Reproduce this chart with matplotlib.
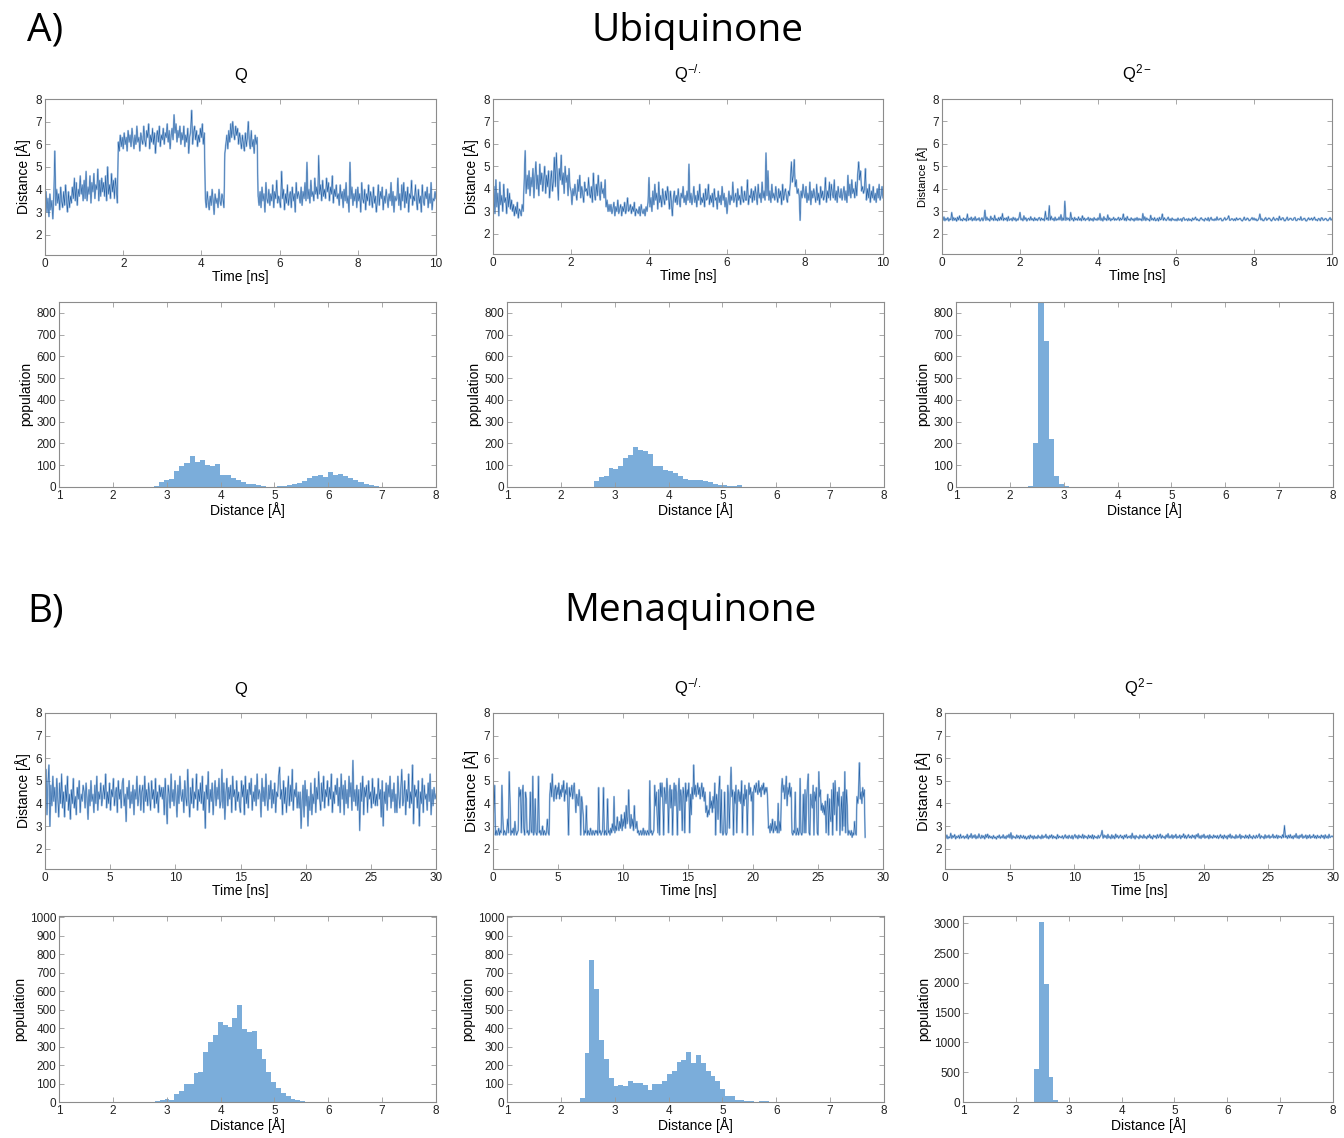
import matplotlib
matplotlib.use("Agg")
import matplotlib.pyplot as plt
import numpy as np

plt.rcParams['font.family'] = ['Liberation Sans', 'DejaVu Sans']
plt.rcParams['mathtext.fontset'] = 'custom'
plt.rcParams['mathtext.rm'] = 'Liberation Sans'
plt.rcParams['mathtext.it'] = 'Liberation Sans:italic'

# ---------------- data ----------------
states = ['Q', 'Q$^{\\mathrm{-/.}}$', 'Q$^{\\mathrm{2-}}$']

# Ubiquinone distance traces, one sample every 0.025 ns (0-10 ns)
ubi_dt = 0.025
ubi_q = [
    3.2, 3.9, 3.0, 3.6, 2.8, 3.8, 3.1, 3.5, 2.7, 3.7, 5.7, 3.3, 4.0, 3.4, 3.8, 3.1, 4.1, 3.5, 3.2, 3.9,
    3.3, 4.2, 3.5, 3.0, 3.9, 3.2, 3.7, 3.4, 4.1, 3.6, 4.5, 3.5, 4.3, 3.3, 4.0, 3.7, 4.6, 3.8, 4.2, 3.5,
    4.4, 3.6, 4.8, 3.5, 4.1, 3.8, 4.6, 3.4, 4.3, 3.9, 4.7, 3.6, 4.2, 4.0, 4.9, 3.5, 4.4, 3.7, 4.5, 3.9,
    4.3, 3.7, 4.6, 3.5, 5.0, 3.8, 4.2, 3.6, 4.7, 3.9, 4.4, 3.6, 4.5, 4.0, 3.4, 6.1, 5.7, 6.4, 5.9, 6.3,
    5.8, 6.5, 6.0, 6.3, 5.7, 6.6, 6.1, 6.4, 5.9, 6.7, 6.2, 5.8, 6.4, 6.0, 6.8, 6.1, 6.3, 5.7, 6.5, 6.2,
    6.0, 6.8, 6.2, 5.9, 6.6, 6.3, 6.9, 5.8, 6.4, 6.1, 6.7, 6.0, 6.5, 5.6, 6.3, 6.6, 6.1, 6.8, 5.9, 6.4,
    6.2, 6.7, 6.0, 6.5, 6.3, 6.9, 6.1, 6.6, 5.8, 6.4, 6.7, 6.2, 7.3, 6.5, 6.9, 6.1, 6.6, 6.3, 6.8, 6.0,
    6.5, 6.2, 6.8, 5.9, 6.4, 6.1, 6.7, 5.6, 6.3, 6.6, 7.5, 6.0, 6.5, 6.8, 6.2, 6.6, 5.9, 6.4, 6.1, 6.7,
    6.3, 6.9, 6.0, 6.5, 3.6, 3.2, 3.9, 3.4, 3.1, 3.7, 3.3, 4.0, 3.5, 2.9, 3.8, 3.4, 3.6, 3.2, 4.0, 3.5,
    3.3, 3.8, 3.6, 3.2, 5.6, 6.0, 6.4, 5.8, 6.6, 6.1, 6.9, 6.3, 7.0, 6.5, 6.2, 6.8, 6.4, 6.7, 6.0, 6.5,
    6.2, 5.8, 6.4, 6.0, 5.7, 6.5, 5.9, 6.3, 7.0, 6.1, 5.8, 6.6, 5.9, 6.2, 5.6, 6.4, 6.0, 6.3, 3.7, 3.3,
    3.9, 3.2, 4.1, 3.5, 3.8, 3.0, 4.3, 3.6, 3.4, 4.0, 3.3, 3.8, 3.5, 4.2, 3.2, 3.9, 3.6, 4.4, 3.4, 3.7,
    3.5, 3.2, 4.8, 3.6, 4.0, 3.1, 3.8, 3.4, 4.2, 3.3, 3.7, 3.9, 3.2, 4.1, 3.5, 3.8, 3.0, 4.3, 3.6, 3.9,
    3.7, 3.4, 4.1, 3.3, 3.9, 3.6, 4.3, 3.5, 5.2, 3.6, 4.0, 3.4, 4.4, 3.7, 3.9, 3.5, 4.5, 3.8, 4.1, 3.6,
    5.5, 3.8, 4.2, 3.5, 4.4, 3.7, 4.0, 3.6, 4.5, 3.9, 4.3, 3.5, 4.1, 3.8, 4.6, 3.4, 4.0, 3.7, 4.2, 3.6,
    3.8, 3.3, 4.2, 3.6, 3.9, 3.2, 4.0, 3.5, 4.3, 3.4, 3.7, 3.0, 5.2, 3.6, 4.1, 3.3, 3.8, 3.5, 4.0, 3.2,
    4.1, 3.5, 3.8, 3.0, 4.3, 3.6, 3.4, 4.0, 3.1, 3.8, 3.5, 4.2, 3.3, 3.9, 3.6, 3.2, 4.1, 3.4, 3.7, 3.0,
    3.5, 4.2, 3.3, 3.9, 3.6, 4.1, 3.1, 3.7, 3.4, 4.0, 3.6, 3.2, 3.8, 3.5, 4.3, 3.3, 3.9, 3.0, 3.7, 3.5,
    3.6, 4.5, 3.3, 3.8, 3.1, 4.2, 3.5, 4.3, 3.2, 3.9, 3.4, 4.1, 3.0, 3.8, 3.6, 4.4, 3.3, 3.7, 3.5, 4.2,
    3.5, 3.1, 4.0, 3.4, 3.7, 3.0, 4.2, 3.5, 3.3, 3.9, 3.6, 4.1, 3.2, 3.8, 3.4, 4.3, 3.1, 3.6, 3.5, 3.9,
    3.6,
]
ubi_qsemi = [
    3.5, 4.1, 2.9, 4.4, 3.2, 3.8, 2.8, 4.3, 3.3, 3.7, 3.0, 4.2, 3.4, 3.6, 2.9, 4.0, 3.2, 3.8, 3.1, 3.5,
    3.0, 3.3, 2.8, 3.2, 2.9, 3.4, 2.7, 3.1, 3.0, 2.8, 3.3, 3.0, 4.4, 5.7, 3.8, 4.6, 4.0, 4.8, 3.7, 4.5,
    4.1, 4.9, 3.6, 4.5, 5.2, 4.0, 4.6, 3.7, 5.1, 4.2, 4.7, 3.9, 4.4, 5.0, 3.8, 4.6, 4.1, 4.8, 3.6, 4.3,
    4.8, 3.9, 4.4, 5.4, 4.1, 5.6, 4.5, 3.5, 4.9, 4.4, 5.5, 4.2, 4.7, 3.8, 5.0, 4.3, 4.6, 3.7, 4.9, 4.1,
    3.9, 3.3, 4.0, 3.7, 4.2, 3.8, 3.5, 4.4, 3.9, 4.6, 3.6, 4.1, 3.8, 3.4, 4.3, 3.9, 4.0, 3.7, 4.5, 3.8,
    3.6, 4.1, 3.4, 4.7, 3.8, 3.5, 4.2, 3.7, 4.6, 3.9, 3.5, 4.3, 3.8, 4.0, 3.6, 4.4, 3.2, 3.5, 3.0, 3.3,
    3.0, 3.3, 2.9, 3.1, 3.4, 2.8, 3.2, 3.0, 3.5, 2.9, 3.1, 3.3, 2.8, 3.2, 3.0, 3.4, 2.9, 3.1, 3.6, 3.0,
    3.1, 3.3, 2.9, 3.2, 3.0, 3.4, 2.8, 3.1, 3.0, 2.9, 3.2, 2.8, 3.3, 3.0, 2.9, 3.1, 2.8, 3.2, 3.0, 3.4,
    4.5, 3.2, 3.6, 3.0, 3.9, 3.3, 4.2, 3.5, 3.8, 3.1, 4.3, 3.4, 3.7, 3.2, 4.0, 3.6, 3.3, 3.9, 3.5, 4.1,
    3.7, 3.1, 3.9, 3.4, 2.8, 3.6, 3.9, 3.4, 3.7, 3.3, 4.0, 3.5, 3.2, 3.8, 3.6, 4.1, 3.4, 3.7, 3.3, 3.9,
    3.5, 5.1, 3.4, 3.8, 3.3, 3.6, 4.1, 3.4, 3.7, 3.2, 3.9, 3.5, 4.2, 3.3, 3.6, 3.4, 3.8, 3.2, 4.0, 3.5,
    3.6, 4.2, 3.3, 3.7, 3.4, 3.8, 3.2, 4.0, 3.5, 3.6, 3.1, 3.9, 3.4, 3.7, 3.3, 4.1, 3.5, 3.8, 3.2, 3.6,
    2.9, 3.4, 3.9, 3.3, 3.7, 3.5, 4.3, 3.4, 3.6, 3.8, 3.2, 4.0, 3.5, 3.7, 3.3, 4.1, 3.6, 3.4, 3.9, 3.5,
    3.5, 4.4, 3.3, 3.7, 3.6, 4.0, 3.4, 3.9, 3.5, 4.1, 3.7, 3.3, 4.2, 3.6, 3.8, 3.4, 4.3, 3.6, 3.9, 3.5,
    5.6, 3.7, 4.8, 3.5, 3.9, 3.4, 4.2, 3.6, 3.8, 3.5, 4.1, 3.7, 3.4, 4.0, 3.6, 3.9, 3.3, 4.2, 3.5, 3.8,
    4.0, 3.6, 3.4, 3.9, 3.7, 4.3, 5.2, 4.3, 4.6, 5.3, 4.1, 4.4, 3.8, 4.0, 3.7, 2.6, 3.9, 3.6, 4.2, 3.8,
    3.6, 4.1, 3.4, 3.8, 3.5, 4.3, 3.3, 3.9, 3.6, 4.0, 3.7, 3.4, 4.2, 3.5, 3.8, 3.3, 4.1, 3.6, 3.9, 3.5,
    3.7, 4.5, 3.4, 3.9, 3.6, 4.3, 3.5, 4.2, 3.8, 3.6, 4.4, 3.5, 3.9, 3.4, 4.1, 3.7, 3.6, 4.0, 3.5, 3.8,
    4.1, 3.5, 3.9, 3.4, 4.6, 3.7, 4.2, 3.6, 4.4, 3.8, 4.0, 3.6, 4.3, 3.7, 4.6, 5.2, 4.4, 4.8, 3.9, 4.1,
    3.8, 4.0, 4.9, 3.5, 4.0, 3.6, 4.2, 3.4, 3.9, 3.6, 4.1, 3.5, 3.8, 3.4, 4.0, 3.6, 4.2, 3.5, 3.7, 4.1,
    3.6,
]
ubi_q2 = [
    2.70, 2.60, 2.75, 2.58, 2.68, 2.62, 2.72, 2.57, 2.66, 2.63, 2.95, 2.59, 2.72, 2.61, 2.69, 2.56, 2.74, 2.62, 2.80, 2.60,
    2.64, 2.58, 2.70, 2.62, 2.66, 2.57, 2.88, 2.60, 2.68, 2.63, 2.74, 2.58, 2.69, 2.61, 2.76, 2.59, 2.67, 2.62, 2.71, 2.57,
    2.63, 2.71, 2.58, 2.68, 3.05, 2.60, 2.74, 2.62, 2.66, 2.57, 2.78, 2.63, 2.69, 2.59, 2.82, 2.61, 2.66, 2.58, 2.72, 2.60,
    2.74, 2.62, 2.90, 2.59, 2.69, 2.63, 2.71, 2.57, 2.77, 2.60, 2.64, 2.68, 2.58, 2.73, 2.62, 2.70, 2.57, 2.66, 2.61, 2.73,
    2.95, 2.62, 2.68, 2.58, 2.80, 2.63, 2.71, 2.57, 2.65, 2.69, 2.60, 2.76, 2.62, 2.67, 2.58, 2.72, 2.61, 2.66, 2.59, 2.70,
    2.72, 2.59, 2.70, 2.62, 2.66, 2.58, 3.00, 2.64, 2.71, 2.60, 3.25, 2.61, 2.78, 2.63, 2.68, 2.58, 2.74, 2.60, 2.66, 2.62,
    2.74, 2.62, 2.85, 2.59, 2.70, 2.61, 3.45, 2.60, 2.72, 2.63, 2.69, 2.58, 2.95, 2.63, 2.69, 2.57, 2.73, 2.62, 2.67, 2.60,
    2.75, 2.61, 2.68, 2.58, 2.80, 2.62, 2.70, 2.59, 2.66, 2.64, 2.73, 2.58, 2.69, 2.61, 2.67, 2.57, 2.72, 2.62, 2.66, 2.60,
    2.71, 2.62, 2.90, 2.60, 2.69, 2.57, 2.76, 2.63, 2.68, 2.59, 2.84, 2.62, 2.70, 2.58, 2.66, 2.63, 2.73, 2.60, 2.67, 2.61,
    2.66, 2.73, 2.59, 2.70, 2.62, 2.67, 2.88, 2.60, 2.70, 2.58, 2.77, 2.63, 2.65, 2.59, 2.71, 2.62, 2.66, 2.57, 2.69, 2.61,
    2.72, 2.60, 2.68, 2.62, 2.66, 2.58, 2.90, 2.61, 2.75, 2.59, 2.70, 2.63, 2.64, 2.57, 2.82, 2.62, 2.68, 2.60, 2.72, 2.58,
    2.61, 2.69, 2.57, 2.73, 2.62, 2.66, 2.88, 2.60, 2.71, 2.63, 2.59, 2.67, 2.74, 2.60, 2.66, 2.58, 2.70, 2.62, 2.64, 2.59,
    2.65, 2.58, 2.70, 2.61, 2.62, 2.67, 2.56, 2.69, 2.72, 2.60, 2.63, 2.66, 2.58, 2.68, 2.60, 2.64, 2.57, 2.70, 2.62, 2.66,
    2.74, 2.61, 2.66, 2.59, 2.58, 2.69, 2.71, 2.62, 2.63, 2.57, 2.69, 2.64, 2.60, 2.72, 2.57, 2.66, 2.73, 2.61, 2.64, 2.59,
    2.67, 2.60, 2.75, 2.62, 2.62, 2.68, 2.69, 2.58, 2.58, 2.65, 2.72, 2.61, 2.64, 2.69, 2.80, 2.60, 2.61, 2.67, 2.66, 2.59,
    2.66, 2.59, 2.71, 2.62, 2.63, 2.68, 2.68, 2.60, 2.57, 2.64, 2.74, 2.61, 2.62, 2.70, 2.67, 2.58, 2.60, 2.66, 2.72, 2.62,
    2.70, 2.61, 2.66, 2.58, 2.61, 2.69, 2.88, 2.62, 2.68, 2.59, 2.58, 2.67, 2.72, 2.60, 2.64, 2.70, 2.69, 2.61, 2.57, 2.65,
    2.73, 2.62, 2.60, 2.68, 2.67, 2.59, 2.78, 2.63, 2.62, 2.71, 2.70, 2.58, 2.58, 2.66, 2.74, 2.60, 2.63, 2.69, 2.68, 2.61,
    2.61, 2.70, 2.72, 2.59, 2.59, 2.67, 2.66, 2.62, 2.76, 2.60, 2.62, 2.68, 2.69, 2.58, 2.57, 2.65, 2.71, 2.62, 2.64, 2.70,
    2.60, 2.67, 2.74, 2.61, 2.63, 2.58, 2.68, 2.66, 2.58, 2.71, 2.70, 2.60, 2.62, 2.68, 2.67, 2.59, 2.59, 2.66, 2.72, 2.61,
    2.65,
]

# Menaquinone traces: Q and Q2- every 0.075 ns (0-30 ns), Q-/. every 0.0625 ns
mena_dt = 0.075
mena_semi_dt = 0.0625
mena_q = [
    4.6, 5.5, 3.5, 4.9, 5.7, 3.0, 4.8, 3.9, 5.2, 4.1, 4.7, 3.6, 5.1, 4.3, 3.4, 4.9, 4.0, 5.3, 3.8, 4.5,
    3.4, 4.8, 4.1, 5.2, 3.7, 4.4, 3.3, 4.6, 4.0, 5.1, 3.8, 4.3, 3.5, 4.7, 4.2, 5.0, 3.6, 4.4, 4.1, 4.8,
    4.5, 3.8, 4.9, 4.2, 3.3, 4.6, 3.9, 5.0, 4.1, 4.4, 3.6, 4.8, 4.0, 5.2, 3.7, 4.5, 4.2, 4.9, 3.9, 4.3,
    4.8, 4.2, 5.3, 3.8, 4.5, 4.0, 4.9, 3.7, 4.6, 4.3, 5.1, 3.9, 4.4, 4.7, 3.6, 5.0, 4.2, 4.6, 3.8, 4.9,
    5.1, 3.9, 4.4, 3.2, 4.7, 4.2, 5.0, 3.8, 4.5, 4.0, 4.8, 3.5, 4.6, 4.2, 5.2, 3.9, 4.3, 4.8, 3.7, 4.5,
    4.8, 3.6, 5.2, 4.1, 4.6, 3.9, 4.9, 4.3, 3.7, 5.0, 4.2, 4.6, 3.8, 5.1, 4.0, 4.5, 3.6, 4.8, 4.3, 4.7,
    4.2, 4.7, 3.5, 5.1, 4.0, 3.1, 4.8, 4.4, 3.8, 5.3, 4.1, 4.6, 3.9, 5.0, 4.3, 3.4, 4.8, 4.0, 5.2, 4.4,
    4.1, 4.6, 3.6, 5.0, 4.3, 3.9, 5.5, 4.2, 3.4, 4.7, 4.0, 5.1, 3.8, 4.5, 4.2, 5.3, 3.7, 4.6, 4.1, 4.9,
    4.0, 5.2, 3.7, 4.5, 2.9, 4.8, 4.2, 5.4, 3.6, 4.6, 4.1, 4.9, 3.5, 4.4, 5.0, 3.9, 4.7, 4.2, 5.1, 3.8,
    4.1, 5.5, 3.8, 4.9, 3.3, 4.4, 5.1, 3.9, 4.7, 4.2, 4.8, 3.6, 5.2, 4.3, 4.6, 3.7, 5.0, 4.1, 4.5, 3.9,
    3.6, 5.0, 4.3, 4.8, 3.5, 5.2, 4.0, 4.6, 3.8, 4.9, 4.4, 5.1, 3.7, 4.5, 4.1, 4.8, 3.9, 5.3, 4.2, 4.6,
    4.4, 3.4, 5.1, 4.1, 4.7, 3.9, 5.3, 4.3, 3.7, 4.8, 4.2, 5.0, 3.8, 4.6, 4.0, 4.9, 3.6, 4.5, 4.3, 5.2,
    5.6, 4.2, 4.6, 3.5, 5.0, 4.0, 4.7, 3.6, 4.4, 5.2, 3.9, 4.8, 4.1, 5.5, 3.7, 4.6, 4.3, 4.9, 3.8, 4.5,
    3.8, 4.5, 2.9, 4.1, 4.8, 3.4, 5.0, 3.9, 4.6, 3.0, 4.3, 3.7, 4.9, 3.5, 4.4, 4.0, 5.1, 3.6, 4.7, 4.2,
    5.4, 4.2, 3.7, 4.9, 4.1, 5.2, 3.8, 4.6, 4.3, 5.0, 3.9, 4.7, 4.2, 5.3, 3.6, 4.5, 4.0, 4.8, 4.4, 5.1,
    3.9, 4.7, 3.6, 5.3, 4.2, 4.8, 3.5, 5.0, 4.0, 4.6, 3.8, 5.2, 4.3, 4.9, 3.7, 5.9, 4.1, 4.6, 3.9, 4.8,
    3.7, 4.6, 2.8, 4.9, 4.1, 5.2, 3.5, 4.7, 4.3, 4.8, 3.6, 5.0, 4.2, 4.5, 3.8, 5.1, 4.0, 4.7, 3.9, 4.4,
    3.9, 5.1, 4.2, 4.6, 3.4, 5.0, 3.0, 4.5, 4.0, 4.9, 3.7, 4.8, 4.3, 5.2, 3.8, 4.6, 4.1, 4.9, 3.6, 4.4,
    3.6, 5.2, 4.4, 3.8, 4.7, 5.5, 3.9, 4.2, 5.0, 3.5, 4.6, 4.1, 5.3, 3.8, 4.5, 4.0, 5.7, 3.1, 4.8, 4.3,
    4.6, 3.8, 5.0, 3.0, 4.5, 4.0, 5.1, 3.6, 4.8, 4.2, 4.4, 3.7, 4.9, 4.1, 5.3, 3.5, 4.6, 3.9, 4.7, 4.2,
    4.4,
]
mena_qsemi = [
    2.7, 3.6, 4.8, 2.6, 2.8, 2.6, 2.7, 2.9, 2.6, 2.8, 2.7, 4.8, 3.5, 2.6, 2.8, 2.7,
    2.6, 2.8, 3.3, 2.7, 5.4, 4.1, 2.6, 2.8, 2.7, 2.9, 2.6, 3.2, 2.8, 2.6, 2.7, 2.8,
    4.7, 4.3, 4.6, 2.7, 4.4, 4.8, 2.9, 2.6, 4.5, 4.2, 2.7, 2.8, 2.6, 2.7, 4.5, 2.8,
    2.7, 5.2, 2.6, 2.8, 4.2, 2.7, 2.6, 2.9, 5.2, 2.7, 2.8, 2.6, 2.7, 3.0, 2.6, 2.8,
    2.7, 2.6, 2.8, 3.3, 2.7, 2.6, 4.4, 4.9, 4.3, 5.3, 4.5, 4.1, 4.6, 4.8, 4.2, 4.7,
    4.4, 4.9, 4.2, 4.6, 4.3, 4.8, 4.5, 5.0, 4.1, 4.6, 4.4, 4.9, 4.2, 2.6, 4.7, 4.3,
    4.5, 4.8, 4.2, 4.6, 4.9, 4.3, 3.6, 4.4, 4.1, 3.9, 4.6, 4.2, 2.6, 4.3, 4.0, 3.5,
    2.6, 2.8, 2.7, 3.9, 2.6, 2.8, 2.7, 2.6, 2.9, 2.7, 2.6, 2.8, 2.7, 2.6, 2.8, 2.7,
    2.8, 2.6, 4.7, 2.7, 2.8, 2.6, 2.7, 2.8, 4.7, 2.6, 2.8, 2.7, 2.6, 4.2, 2.7, 2.8,
    2.6, 2.9, 2.7, 3.1, 2.8, 4.3, 2.7, 3.0, 2.8, 3.4, 3.0, 2.8, 3.2, 2.9, 3.5, 2.8,
    3.3, 3.0, 3.6, 2.9, 3.9, 3.1, 3.4, 4.6, 3.2, 2.9, 3.5, 3.0, 3.3, 2.8, 3.9, 3.1,
    2.9, 3.2, 2.7, 2.8, 2.6, 2.7, 2.8, 2.6, 2.7, 2.9, 2.6, 2.8, 2.7, 2.6, 2.8, 2.7,
    2.6, 5.0, 2.7, 2.8, 2.6, 2.7, 2.8, 4.8, 3.9, 4.5, 3.5, 2.7, 4.6, 2.6, 4.9, 4.3,
    4.9, 4.2, 2.6, 4.7, 4.4, 4.0, 5.1, 4.5, 2.7, 4.4, 4.8, 3.8, 4.6, 2.6, 4.3, 4.9,
    3.9, 4.8, 4.3, 2.6, 4.5, 5.1, 3.7, 4.6, 4.2, 2.8, 4.7, 4.4, 2.7, 4.9, 4.1, 4.6,
    4.3, 4.9, 2.7, 4.4, 3.5, 4.7, 4.2, 5.7, 4.4, 4.8, 4.3, 4.6, 4.9, 4.4, 4.7, 4.2,
    4.6, 4.9, 4.3, 4.7, 4.1, 4.5, 3.6, 3.9, 3.4, 3.7, 3.5, 4.5, 3.8, 4.1, 3.6, 4.3,
    3.8, 4.9, 2.6, 4.4, 4.1, 3.3, 4.6, 5.2, 2.7, 4.6, 2.8, 2.6, 2.7, 4.5, 2.8, 2.6,
    2.7, 4.8, 4.2, 2.9, 4.6, 5.6, 4.3, 4.6, 2.6, 4.5, 4.0, 4.8, 2.7, 4.3, 4.6, 4.1,
    4.5, 4.0, 5.0, 2.7, 4.4, 3.9, 4.8, 4.2, 4.6, 2.6, 4.3, 4.9, 4.4, 4.7, 4.1, 4.5,
    2.6, 4.6, 4.8, 4.5, 4.9, 4.6, 4.4, 5.0, 4.5, 4.7, 4.3, 4.8, 4.6, 4.9, 4.4, 4.7,
    4.5, 4.7, 4.2, 2.9, 3.0, 2.7, 3.1, 2.8, 3.3, 2.7, 2.9, 3.2, 2.8, 3.0, 2.7, 4.0,
    2.7, 3.2, 2.8, 4.6, 5.1, 4.5, 4.8, 4.2, 4.6, 5.2, 3.9, 4.7, 4.4, 4.9, 4.3, 4.7,
    2.7, 2.6, 2.8, 2.7, 4.5, 2.6, 2.7, 2.9, 2.6, 2.8, 5.1, 2.7, 2.6, 2.8, 4.4, 2.7,
    4.6, 2.7, 4.2, 4.8, 5.3, 2.7, 2.6, 4.4, 4.0, 3.8, 4.8, 2.6, 4.5, 4.1, 4.7, 2.7,
    2.6, 5.4, 4.3, 4.6, 3.7, 4.0, 3.6, 3.9, 3.5, 4.1, 2.7, 3.8, 4.4, 2.6, 4.2, 3.4,
    3.2, 4.6, 2.6, 4.9, 3.5, 5.0, 4.2, 2.8, 4.5, 3.9, 4.7, 2.6, 3.5, 4.3, 2.8, 4.5,
    3.0, 5.4, 2.7, 4.6, 3.9, 2.6, 2.8, 2.7, 2.6, 2.8, 2.5, 2.7, 2.6, 3.2, 2.7, 2.6,
    4.3, 4.0, 4.6, 5.8, 4.2, 4.5, 4.0, 4.7, 4.3, 4.6, 2.5,
]
mena_q2 = [
    2.55, 2.46, 2.60, 2.44, 2.52, 2.48, 2.68, 2.45, 2.57, 2.50, 2.62, 2.43, 2.54, 2.49, 2.58, 2.45, 2.63, 2.47, 2.52, 2.56,
    2.45, 2.54, 2.48, 2.63, 2.43, 2.56, 2.50, 2.66, 2.46, 2.58, 2.49, 2.61, 2.44, 2.55, 2.47, 2.65, 2.51, 2.45, 2.59, 2.48,
    2.56, 2.43, 2.62, 2.50, 2.64, 2.46, 2.57, 2.48, 2.53, 2.44, 2.58, 2.47, 2.51, 2.42, 2.55, 2.49, 2.60, 2.45, 2.53, 2.48,
    2.61, 2.46, 2.54, 2.44, 2.58, 2.50, 2.63, 2.47, 2.70, 2.43, 2.57, 2.49, 2.52, 2.45, 2.60, 2.48, 2.56, 2.44, 2.59, 2.50,
    2.47, 2.58, 2.45, 2.54, 2.42, 2.48, 2.56, 2.44, 2.60, 2.49, 2.55, 2.43, 2.57, 2.46, 2.52, 2.45, 2.59, 2.48, 2.53, 2.44,
    2.60, 2.46, 2.55, 2.50, 2.63, 2.47, 2.54, 2.44, 2.58, 2.49, 2.61, 2.45, 2.56, 2.48, 2.52, 2.43, 2.62, 2.47, 2.55, 2.50,
    2.48, 2.57, 2.44, 2.53, 2.61, 2.47, 2.55, 2.45, 2.59, 2.50, 2.46, 2.58, 2.43, 2.54, 2.62, 2.48, 2.56, 2.44, 2.60, 2.49,
    2.55, 2.47, 2.63, 2.45, 2.58, 2.50, 2.53, 2.44, 2.60, 2.48, 2.56, 2.46, 2.61, 2.43, 2.57, 2.49, 2.52, 2.45, 2.59, 2.47,
    2.54, 2.62, 2.80, 2.46, 2.60, 2.50, 2.57, 2.45, 2.63, 2.48, 2.54, 2.44, 2.61, 2.47, 2.56, 2.44, 2.64, 2.50, 2.58, 2.46,
    2.53, 2.60, 2.48, 2.55, 2.43, 2.59, 2.50, 2.62, 2.46, 2.54, 2.49, 2.57, 2.45, 2.68, 2.48, 2.56, 2.43, 2.58, 2.50, 2.52,
    2.44, 2.60, 2.49, 2.55, 2.46, 2.61, 2.48, 2.53, 2.44, 2.57, 2.50, 2.63, 2.47, 2.54, 2.43, 2.59, 2.51, 2.56, 2.45, 2.62,
    2.48, 2.55, 2.64, 2.46, 2.58, 2.49, 2.53, 2.44, 2.60, 2.50, 2.66, 2.47, 2.55, 2.48, 2.61, 2.45, 2.57, 2.50, 2.63, 2.46,
    2.54, 2.49, 2.60, 2.44, 2.56, 2.51, 2.65, 2.47, 2.58, 2.45, 2.53, 2.62, 2.48, 2.55, 2.46, 2.60, 2.50, 2.57, 2.44, 2.61,
    2.52, 2.66, 2.47, 2.56, 2.45, 2.59, 2.50, 2.63, 2.46, 2.55, 2.49, 2.58, 2.44, 2.61, 2.48, 2.54, 2.46, 2.60, 2.50, 2.56,
    2.47, 2.58, 2.45, 2.54, 2.62, 2.48, 2.56, 2.44, 2.60, 2.49, 2.55, 2.43, 2.59, 2.50, 2.64, 2.46, 2.57, 2.48, 2.53, 2.45,
    2.61, 2.47, 2.55, 2.49, 2.63, 2.44, 2.57, 2.50, 2.54, 2.46, 2.60, 2.48, 2.56, 2.45, 2.62, 2.49, 2.53, 2.44, 2.58, 2.50,
    2.46, 2.59, 2.48, 2.55, 2.65, 2.45, 2.57, 2.50, 2.53, 2.44, 2.61, 2.47, 2.56, 2.49, 2.60, 2.46, 2.54, 2.50, 2.63, 2.47,
    2.55, 2.48, 2.60, 2.45, 2.57, 2.50, 2.54, 2.46, 2.61, 2.49, 3.02, 2.50, 2.56, 2.45, 2.59, 2.48, 2.62, 2.47, 2.55, 2.44,
    2.58, 2.50, 2.66, 2.47, 2.56, 2.45, 2.59, 2.51, 2.63, 2.46, 2.55, 2.49, 2.60, 2.44, 2.57, 2.48, 2.61, 2.46, 2.54, 2.50,
    2.62, 2.47, 2.56, 2.45, 2.59, 2.49, 2.54, 2.46, 2.60, 2.50, 2.57, 2.44, 2.61, 2.48, 2.55, 2.46, 2.63, 2.49, 2.53, 2.56,
    2.52,
]

# distance histograms: left edge of first bin, bin width, counts
ubi_hist_lo = [2.76, 2.61, 2.34]
ubi_hist_w = [0.095, 0.092, 0.095]
ubi_hist_q = [5, 25, 32, 38, 73, 96, 108, 140, 115, 125, 103, 95, 107, 55, 55,
              40, 30, 22, 14, 12, 8, 3, 1, 2, 3, 5, 9, 14, 20, 28, 40, 50, 57,
              48, 67, 55, 60, 50, 42, 33, 22, 15, 10, 4]
ubi_hist_qsemi = [28, 45, 52, 88, 84, 97, 135, 148, 185, 168, 165, 150, 97, 97,
                  80, 74, 64, 50, 36, 34, 34, 30, 26, 22, 14, 11, 7, 4, 4, 9,
                  1, 1, 1, 2, 1]
ubi_hist_q2 = [3, 200, 850, 672, 222, 51, 15, 4, 2, 1, 1]

mena_hist_lo = [2.78, 2.35, 2.35]
mena_hist_w = [0.09, 0.09, 0.09]
mena_hist_q = [5, 10, 18, 12, 45, 58, 95, 100, 155, 160, 270, 325, 360, 430, 418,
               405, 455, 522, 395, 378, 385, 285, 230, 160, 108, 78, 50, 30, 15,
               12, 4, 2, 1, 1]
mena_hist_qsemi = [20, 265, 765, 610, 335, 232, 130, 85, 90, 88, 115, 105, 105,
                   92, 65, 98, 98, 112, 150, 170, 218, 228, 268, 210, 252, 210,
                   170, 140, 115, 70, 35, 35, 12, 12, 8, 3, 2, 3, 6, 2, 1]
mena_hist_q2 = [550, 3020, 1975, 428, 35, 5]

# ---------------- drawing ----------------
band_col = '#5a90cb'
core_col = '#0f4f9a'
bar_col = '#7badda'


def style(ax):
    for s in ax.spines.values():
        s.set_color('#8c8c8c')
        s.set_linewidth(0.8)
    ax.tick_params(direction='in', top=True, right=True, length=3.5, width=0.6,
                   color='#9a9a9a', labelsize=8.5, pad=2, labelcolor='#222222')


def draw_trace(ax, dt, dist, tmax, tstep, title, ylab_size=10):
    t = np.arange(len(dist)) * dt
    # pale stroke for the fluctuation band, thin dark stroke on top
    ax.plot(t, dist, color=band_col, lw=1.3, alpha=0.55)
    ax.plot(t, dist, color=core_col, lw=0.4, alpha=0.85)
    ax.set_xlim(0, tmax)
    ax.set_ylim(1.1, 8)
    ax.set_xticks(np.arange(0, tmax + 0.01, tstep))
    ax.set_yticks(range(2, 9))
    ax.set_xlabel('Time [ns]', fontsize=10, labelpad=0)
    ax.set_ylabel('Distance [Å]', fontsize=ylab_size, labelpad=3)
    ax.set_title(title, fontsize=12, pad=14)
    style(ax)


def draw_hist(ax, lo, w, counts, ytop, ystep):
    edges = lo + w * np.arange(len(counts))
    ax.bar(edges, counts, width=w, align='edge', color=bar_col, linewidth=0)
    ax.set_xlim(1, 8)
    ax.set_ylim(0, ytop)
    ax.set_xticks(range(1, 9))
    ax.set_yticks(np.arange(0, ytop, ystep))
    ax.set_xlabel('Distance [Å]', fontsize=10, labelpad=0)
    ax.set_ylabel('population', fontsize=10, labelpad=2)
    style(ax)


fig = plt.figure(figsize=(13.44, 11.38), dpi=100)

# axes rectangles (figure fractions)
trace_rects_a = [[0.0335, 0.7759, 0.2909, 0.1371],
                 [0.3668, 0.7768, 0.2902, 0.1362],
                 [0.7009, 0.7768, 0.2902, 0.1362]]
hist_rects_a = [[0.0439, 0.5721, 0.2805, 0.1626],
                [0.3772, 0.5721, 0.2805, 0.1626],
                [0.7113, 0.5721, 0.2805, 0.1626]]
trace_rects_b = [[0.0335, 0.2364, 0.2909, 0.1371],
                 [0.3668, 0.2364, 0.2902, 0.1371],
                 [0.7031, 0.2364, 0.2887, 0.1371]]
hist_rects_b = [[0.0439, 0.0316, 0.2805, 0.1634],
                [0.3772, 0.0316, 0.2805, 0.1634],
                [0.7165, 0.0316, 0.2753, 0.1634]]

ubi_traces = [ubi_q, ubi_qsemi, ubi_q2]
ubi_hists = [ubi_hist_q, ubi_hist_qsemi, ubi_hist_q2]
mena_traces = [mena_q, mena_qsemi, mena_q2]
mena_steps = [mena_dt, mena_semi_dt, mena_dt]
mena_hists = [mena_hist_q, mena_hist_qsemi, mena_hist_q2]
ubi_ylab = [10, 10, 8]
mena_ylab = [10, 11, 10.5]
mena_ytop = [1005, 1005, 3120]
mena_ystep = [100, 100, 500]

for i in range(3):
    ax = fig.add_axes(trace_rects_a[i])
    draw_trace(ax, ubi_dt, ubi_traces[i], 10, 2, states[i], ubi_ylab[i])
    ax = fig.add_axes(hist_rects_a[i])
    draw_hist(ax, ubi_hist_lo[i], ubi_hist_w[i], ubi_hists[i], 850, 100)

    ax = fig.add_axes(trace_rects_b[i])
    draw_trace(ax, mena_steps[i], mena_traces[i], 30, 5, states[i], mena_ylab[i])
    ax = fig.add_axes(hist_rects_b[i])
    draw_hist(ax, mena_hist_lo[i], mena_hist_w[i], mena_hists[i],
              mena_ytop[i], mena_ystep[i])

# panel letters and headings
head = dict(fontsize=28, family=['Open Sans', 'DejaVu Sans'], va='center')
fig.text(0.020, 0.973, 'A)', ha='left', **head)
fig.text(0.519, 0.973, 'Ubiquinone', ha='center', **head)
fig.text(0.020, 0.463, 'B)', ha='left', **head)
fig.text(0.514, 0.463, 'Menaquinone', ha='center', **head)

fig.savefig('out.png', dpi=100)
